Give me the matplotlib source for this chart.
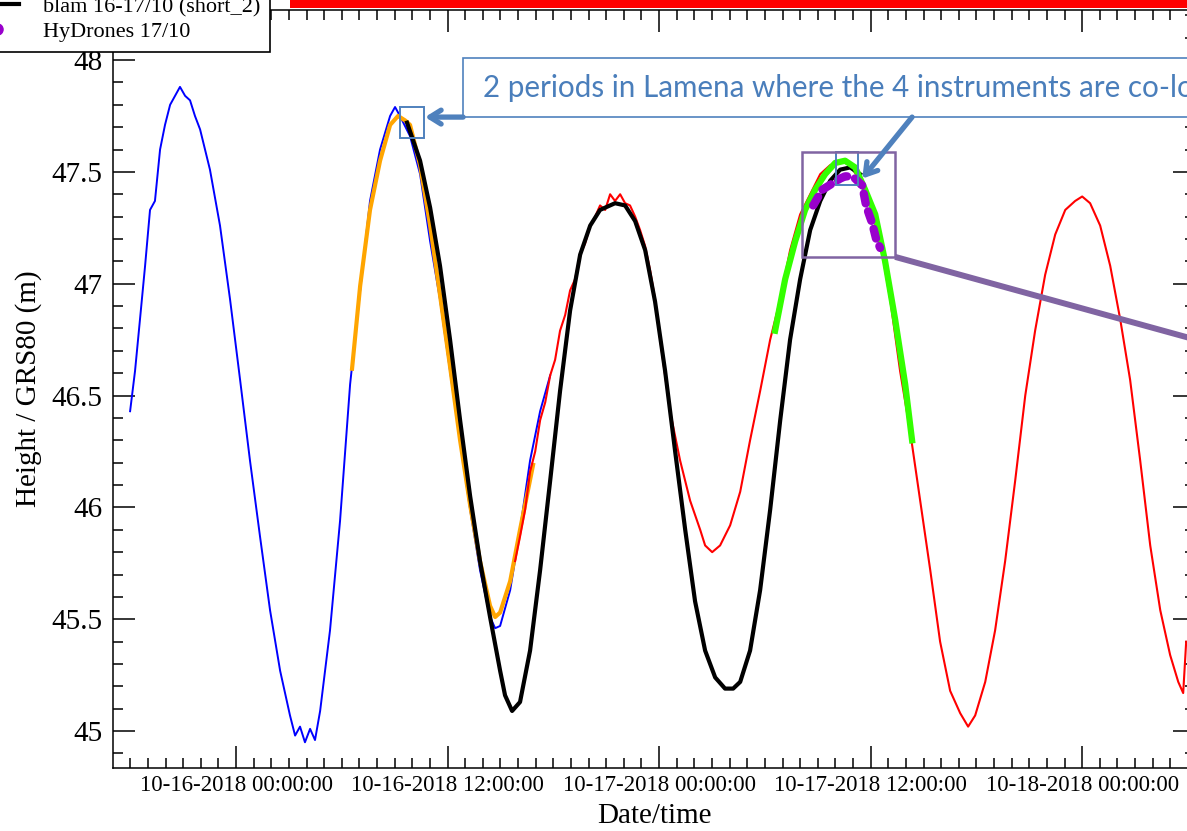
import numpy as np
import pandas as pd
import matplotlib
matplotlib.use("Agg")
import matplotlib.pyplot as plt
import matplotlib.dates as mdates
from matplotlib.lines import Line2D
from matplotlib.patches import Rectangle
from matplotlib.ticker import MultipleLocator, FormatStrFormatter

plt.rcParams['font.family'] = ['Liberation Serif', 'DejaVu Serif']

T0 = pd.Timestamp("2018-10-16 00:00:00")

# hours since 10-16-2018 00:00 / height (m)
blue_h = [-6.01, -5.73, -5.45, -5.16, -4.88, -4.60, -4.31, -4.03, -3.74, -3.46,
          -3.18, -2.89, -2.61, -2.33, -2.04, -1.48, -0.91, -0.34, 0.23, 0.79,
          1.36, 1.93, 2.50, 3.06, 3.35, 3.63, 3.91, 4.20, 4.48, 4.77,
          5.33, 5.90, 6.47, 7.04, 7.60, 8.17, 8.74, 9.02, 9.30, 9.87,
          10.44, 11.01, 11.57, 12.14, 12.71, 13.28, 13.84, 14.41, 14.70, 14.98,
          15.55, 16.11, 16.68, 17.25, 17.82]
blue_v = [46.43, 46.61, 46.84, 47.08, 47.33, 47.37, 47.60, 47.71, 47.80, 47.84,
          47.88, 47.84, 47.82, 47.75, 47.69, 47.51, 47.26, 46.93, 46.57, 46.21,
          45.87, 45.54, 45.27, 45.07, 44.98, 45.02, 44.95, 45.01, 44.96, 45.09,
          45.45, 45.94, 46.55, 46.97, 47.37, 47.60, 47.75, 47.79, 47.75, 47.66,
          47.49, 47.19, 46.93, 46.61, 46.30, 45.99, 45.72, 45.51, 45.46, 45.47,
          45.63, 45.90, 46.21, 46.43, 46.59]

orange_h = [6.58, 7.04, 7.60, 8.17, 8.74, 9.19, 9.59, 9.87, 10.44, 11.01,
            11.57, 12.14, 12.71, 13.28, 13.84, 14.41, 14.70, 14.98, 15.55, 16.11,
            16.85]
orange_v = [46.62, 46.99, 47.33, 47.55, 47.71, 47.75, 47.73, 47.71, 47.53, 47.26,
            46.95, 46.63, 46.30, 46.01, 45.76, 45.56, 45.51, 45.53, 45.67, 45.90,
            46.19]

red_h = [15.83, 16.11, 16.40, 16.68, 16.97, 17.25, 17.54, 17.82, 18.10, 18.38,
         18.67, 18.95, 19.23, 19.52, 19.80, 20.09, 20.37, 20.65, 20.94, 21.22,
         21.50, 21.79, 22.07, 22.35, 22.64, 22.92, 23.20, 23.49, 23.77, 24.06,
         24.62, 25.19, 25.76, 26.33, 26.61, 27.01, 27.46, 28.03, 28.60, 29.16,
         29.73, 30.30, 30.87, 31.43, 32.00, 32.57, 33.14, 33.70, 34.27, 34.84,
         35.40, 35.97, 36.54, 37.11, 37.67, 38.24, 38.81, 39.38, 39.94, 40.51,
         41.08, 41.53, 41.93, 42.50, 43.06, 43.63, 44.20, 44.77, 45.33, 45.90,
         46.47, 47.04, 47.60, 48.00, 48.45, 49.02, 49.59, 50.16, 50.72, 51.29,
         51.86, 52.43, 52.99, 53.45, 53.73, 53.90]
red_v = [45.76, 45.87, 45.99, 46.16, 46.25, 46.39, 46.47, 46.59, 46.66, 46.79,
         46.86, 46.97, 47.02, 47.13, 47.18, 47.26, 47.30, 47.35, 47.33, 47.40,
         47.37, 47.40, 47.36, 47.35, 47.30, 47.24, 47.17, 47.06, 46.93, 46.75,
         46.43, 46.21, 46.03, 45.90, 45.83, 45.80, 45.83, 45.92, 46.07, 46.30,
         46.52, 46.75, 46.93, 47.15, 47.31, 47.40, 47.49, 47.53, 47.55, 47.53,
         47.46, 47.35, 47.19, 46.93, 46.61, 46.34, 46.03, 45.72, 45.40, 45.18,
         45.08, 45.02, 45.07, 45.22, 45.45, 45.76, 46.12, 46.50, 46.79, 47.04,
         47.22, 47.33, 47.37, 47.39, 47.36, 47.26, 47.08, 46.84, 46.57, 46.21,
         45.83, 45.54, 45.34, 45.22, 45.17, 45.40]

black_h = [9.70, 10.44, 11.01, 11.57, 12.14, 12.71, 13.28, 13.84, 14.41, 14.98,
           15.26, 15.66, 16.11, 16.68, 17.25, 17.82, 18.38, 18.95, 19.52, 20.09,
           20.65, 21.50, 22.07, 22.64, 23.21, 23.77, 24.34, 24.91, 25.48, 26.04,
           26.61, 27.18, 27.74, 28.20, 28.60, 29.16, 29.73, 30.30, 30.87, 31.43,
           32.00, 32.57, 33.14, 33.70, 34.27, 34.84, 35.40]
black_v = [47.72, 47.55, 47.34, 47.08, 46.75, 46.39, 46.05, 45.76, 45.51, 45.27,
           45.16, 45.09, 45.13, 45.36, 45.72, 46.12, 46.52, 46.88, 47.13, 47.26,
           47.33, 47.36, 47.35, 47.28, 47.15, 46.92, 46.61, 46.25, 45.90, 45.58,
           45.36, 45.24, 45.19, 45.19, 45.22, 45.36, 45.63, 45.99, 46.39, 46.75,
           47.02, 47.24, 47.37, 47.46, 47.51, 47.52, 47.49]

green_h = [30.58, 31.15, 31.72, 32.28, 32.85, 33.42, 33.99, 34.55, 35.12, 35.69,
           36.26, 36.82, 37.39, 37.96, 38.35]
green_v = [46.79, 47.02, 47.19, 47.33, 47.42, 47.49, 47.54, 47.55, 47.52, 47.42,
           47.31, 47.10, 46.84, 46.55, 46.30]

hydrones_h = [32.74, 32.96, 33.25, 34.27, 34.55, 34.84, 35.12, 35.52, 35.74, 35.91,
              36.09, 36.31, 36.54]
hydrones_v = [47.35, 47.38, 47.42, 47.47, 47.48, 47.48, 47.47, 47.44, 47.35, 47.31,
              47.27, 47.20, 47.16]

legend_labels = ['blam 16-17/10 (short_2)', 'HyDrones 17/10']
callout_text = "2 periods in Lamena where the 4 instruments are co-located"


def xn(hours):
    return mdates.date2num(T0 + pd.to_timedelta(np.asarray(hours, dtype=float), unit="h"))


W, H = 1187, 831
fig = plt.figure(figsize=(W / 100, H / 100), dpi=100)
ax = fig.add_axes([113 / W, (H - 768) / H, 1082 / W, 758.5 / H])

ax.plot(xn(blue_h), blue_v, color='#0000ff', lw=1.4, zorder=2)
ax.plot(xn(orange_h), orange_v, color='#ffa500', lw=3.0, zorder=3)
ax.plot(xn(red_h), red_v, color='#ff0000', lw=1.5, zorder=3)
bl, = ax.plot(xn(black_h), black_v, color='black', lw=3.0, zorder=4)
ax.plot(xn(green_h), green_v, color='#33ff00', lw=4.5, zorder=5)
ax.plot(xn(hydrones_h), hydrones_v, color='#9900cc', lw=6,
        linestyle=(0, (1.2, 1.0)), dash_capstyle='round', zorder=6)

ax.set_xlim(xn(-6.98), xn(54.4))
ax.set_ylim(44.835, 48.226)

ax.xaxis.set_major_locator(mdates.HourLocator(byhour=[0, 12]))
ax.xaxis.set_minor_locator(mdates.HourLocator())
ax.xaxis.set_major_formatter(mdates.DateFormatter("%m-%d-%Y %H:%M:%S"))
ax.yaxis.set_major_locator(MultipleLocator(0.5))
ax.yaxis.set_minor_locator(MultipleLocator(0.1))
ax.yaxis.set_major_formatter(FormatStrFormatter('%g'))

ax.tick_params(which='both', direction='in', top=True, right=True, width=1.1)
ax.tick_params(which='major', length=15.5)
ax.tick_params(which='minor', length=7.5)
ax.tick_params(axis='y', labelsize=21, pad=7.5)
ax.tick_params(axis='x', labelsize=16.5, pad=5)
for s in ax.spines.values():
    s.set_linewidth(1.1)

ax.set_xlabel("Date/time", fontsize=21)
ax.xaxis.set_label_coords(0.5, -0.046)
ax.set_ylabel("Height / GRS80 (m)", fontsize=21)
ax.yaxis.set_label_coords(-0.066, 0.5)

# callouts
blue_c = '#4f81bd'
purple_c = '#8064a2'
ax.add_patch(Rectangle((xn(9.30), 47.65), xn(10.67) - xn(9.30), 0.14,
                       fill=False, ec=blue_c, lw=1.4, zorder=8))
ax.add_patch(Rectangle((xn(34.04), 47.44), xn(35.29) - xn(34.04), 0.15,
                       fill=False, ec=blue_c, lw=1.4, zorder=8))
ax.add_patch(Rectangle((xn(32.11), 47.12), xn(37.39) - xn(32.11), 0.47,
                       fill=False, ec=purple_c, lw=1.8, zorder=8))
ax.plot(xn([37.39, 54.9]), [47.12, 46.74], color=purple_c, lw=4.3,
        solid_capstyle='butt', clip_on=False, zorder=8)

ax.add_patch(Rectangle((xn(12.88), 47.745), xn(60) - xn(12.88), 0.265,
                       fc='white', ec=blue_c, lw=1.2, clip_on=False, zorder=9))
ax.text(xn(14.0), 47.875, callout_text,
        family=['Lato', 'DejaVu Sans'], fontsize=21.3, color='#4a7ebb',
        ha='left', va='center', clip_on=False, zorder=10)
arrow = dict(arrowstyle='->,head_length=0.8,head_width=0.5', color=blue_c,
             lw=3.8, shrinkA=0, shrinkB=0)
ax.annotate("", xy=(xn(10.72), 47.745), xytext=(xn(12.88), 47.745),
            arrowprops=arrow, zorder=10)
ax.annotate("", xy=(xn(35.52), 47.47), xytext=(xn(38.35), 47.745),
            arrowprops=arrow, zorder=10)

# red title bar cut by the top edge
fig.patches.append(Rectangle((290 / W, 1 - 8 / H), 1.0, 8 / H, fc='#ff0000', ec='none',
                             transform=fig.transFigure, figure=fig))

hy_handle = Line2D([], [], color='#9900cc', marker='o', markersize=8, linestyle='none')
leg = ax.legend(handles=[bl, hy_handle], labels=legend_labels, loc='lower right',
                bbox_to_anchor=(270 / W, 1 - 52 / H), bbox_transform=fig.transFigure,
                fontsize=16, frameon=True, fancybox=False, framealpha=1,
                edgecolor='black', borderaxespad=0, handlelength=2.0,
                handletextpad=1.05, labelspacing=0.2, borderpad=0.45)
leg.get_frame().set_linewidth(1.2)
leg.set_zorder(20)

fig.savefig("out.png", dpi=100)
